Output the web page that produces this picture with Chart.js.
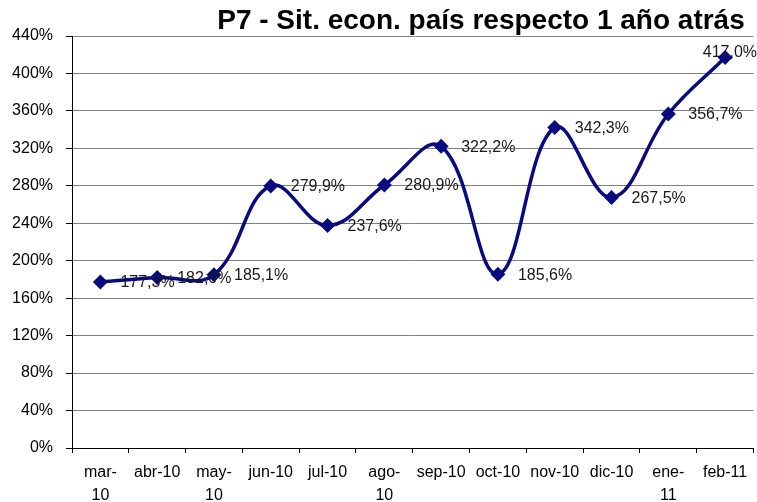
<!DOCTYPE html>
<html>
<head>
<meta charset="utf-8">
<script src="https://cdn.jsdelivr.net/npm/chart.js@4"></script>
<style>
  html, body { margin: 0; padding: 0; background: #fff; overflow: hidden; }
  #wrap { width: 762px; height: 502px; }
</style>
</head>
<body>
<div id="wrap"><canvas id="chart"></canvas></div>
<script>
// months (split where Excel wrapped the label)
var months = [['mar-', '10'], 'abr-10', ['may-', '10'], 'jun-10', 'jul-10', ['ago-', '10'],
              'sep-10', 'oct-10', 'nov-10', 'dic-10', ['ene-', '11'], 'feb-11'];
var values = [177.3, 182.0, 185.1, 279.9, 237.6, 280.9, 322.2, 185.6, 342.3, 267.5, 356.7, 417.0];
var titleText = 'P7 - Sit. econ. país respecto 1 año atrás';

var navy = '#0a0a80';

// draws title and the value labels to the right of each point
var labelPlugin = {
    id: 'labels',
    afterDatasetsDraw: function(chart) {
        var c = chart.ctx;
        c.save();
        c.font = 'bold 28px "Liberation Sans", Arial, sans-serif';
        c.fillStyle = '#000';
        c.textAlign = 'center';
        c.textBaseline = 'alphabetic';
        c.fillText(titleText, 481, 29);

        c.font = '16px "Liberation Sans", Arial, sans-serif';
        c.fillStyle = '#1a1a1a';
        c.textAlign = 'left';
        c.textBaseline = 'middle';
        var pts = chart.getDatasetMeta(0).data;
        for (var i = 0; i < pts.length; i++) {
            var txt = values[i].toFixed(1).replace('.', ',') + '%';
            var w = c.measureText(txt).width;
            var x = pts[i].x + 20;
            var y = pts[i].y + 1;
            if (x + w > 757) { x = 757 - w; y -= 6; }
            c.fillText(txt, x, y);
        }
        c.restore();
    }
};

new Chart(document.getElementById('chart'), {
    type: 'line',
    data: {
        labels: months,
        datasets: [{
            data: values,
            borderColor: navy,
            backgroundColor: navy,
            borderWidth: 3.5,
            tension: 0.4,
            pointStyle: 'rectRot',
            pointRadius: 5,
            pointBackgroundColor: navy,
            pointBorderColor: navy
        }]
    },
    options: {
        responsive: true,
        maintainAspectRatio: false,
        animation: false,
        layout: { padding: { top: 36, left: 0, right: 0, bottom: 0 } },
        plugins: {
            legend: { display: false },
            tooltip: { enabled: false }
        },
        scales: {
            x: {
                offset: true,
                grid: { display: true, drawOnChartArea: false, offset: true, color: '#000', tickLength: 5 },
                border: { color: '#000', width: 1 },
                ticks: {
                    color: '#000',
                    font: { family: '"Liberation Sans", Arial, sans-serif', size: 16, lineHeight: 1.45 },
                    maxRotation: 0, autoSkip: false, padding: 8
                },
                afterFit: function(s) { s.height = 54; }
            },
            y: {
                min: 0, max: 440,
                grid: { color: '#808080', lineWidth: 1, tickLength: 6, tickColor: '#000' },
                border: { color: '#000', width: 1 },
                ticks: {
                    stepSize: 40,
                    color: '#000',
                    padding: 13,
                    font: { family: '"Liberation Sans", Arial, sans-serif', size: 16 },
                    callback: function(v) { return v + '%'; }
                },
                afterFit: function(s) { s.width = 72; }
            }
        }
    },
    plugins: [labelPlugin]
});
</script>
</body>
</html>
